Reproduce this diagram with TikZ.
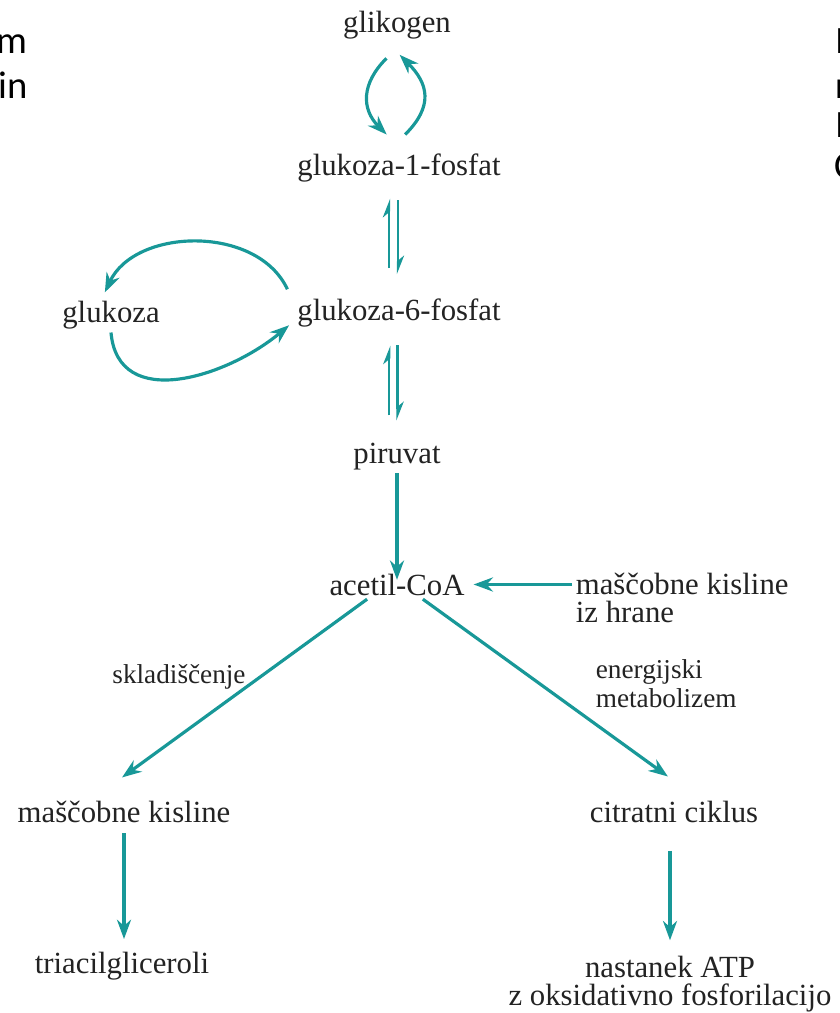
\documentclass[tikz,border=0pt]{standalone}
\usepackage{fontspec}
\setmainfont{Liberation Serif}
\newfontfamily\slidefont{Carlito}
\usetikzlibrary{arrows.meta,positioning}
\definecolor{pot}{RGB}{24,152,152}
\definecolor{besedilo}{RGB}{35,35,35}
\tikzset{
	snov/.style={inner sep=2pt, text=besedilo, font=\fontsize{17.5}{15.5}\selectfont},
	opis/.style={inner sep=2pt, text=besedilo, font=\fontsize{15.5}{16.5}\selectfont},
	drobec/.style={inner sep=0pt, text=black, font=\slidefont\fontsize{22}{26}\selectfont},
	tok/.style={draw=pot, line width=1.8pt, -{Stealth[length=11pt,width=8pt]}},
	povratna/.style={draw=pot, line width=1.3pt, -{Stealth[harpoon,length=9pt,width=7pt]}},
}

\begin{document}
\begin{tikzpicture}[x=0.2mm,y=0.2mm]
				\useasboundingbox (0,0) rectangle (840,-1013);
				\fill[white] (0,0) rectangle (840,-1013);
				\node[drobec, anchor=base east] (lm) at (28,-53) {m};
				\node[drobec, anchor=base east] (lin) at (28,-98) {in};
				\node[drobec, anchor=base west] (d1) at (835,-53) {I};
				\node[drobec, anchor=base west] (d2) at (835,-98) {r};
				\node[drobec, anchor=base west] (d3) at (835,-137) {I};
				\node[drobec, anchor=base west] (d4) at (834,-178) {C};
				
				\node[snov, anchor=base] (glikogen) at (397,-32) {glikogen};
				\node[snov, anchor=base] (g1p) at (399,-175) {glukoza-1-fosfat};
				\node[snov, anchor=base] (g6p) at (399,-320) {glukoza-6-fosfat};
				\node[snov, anchor=base] (glukoza) at (111,-322) {glukoza};
				\node[snov, anchor=base] (piruvat) at (397,-463) {piruvat};
				\node[snov, anchor=base] (acetil) at (397,-595) {acetil-CoA};
				\node[snov, anchor=base west, align=left] (hrana) at (572,-622) {maščobne kisline\\iz hrane};
				\node[opis, anchor=base] (sklad) at (179,-683) {skladiščenje};
				\node[opis, anchor=base west, align=left] (energ) at (592,-707) {energijski\\metabolizem};
				\node[snov, anchor=base] (mkl) at (124,-822) {maščobne kisline};
				\node[snov, anchor=base] (citrat) at (674,-822) {citratni ciklus};
				\node[snov, anchor=base] (tag) at (122,-973) {triacilgliceroli};
				\node[snov, anchor=base, align=center] (atp) at (670,-1005) {nastanek ATP\\z oksidativno fosforilacijo};
				
				\draw[tok] ([xshift=-6pt,yshift=-9pt]glikogen.south) to[out=225, in=135, looseness=1.2] ([xshift=-7pt,yshift=8.5pt]g1p.north);
				\draw[tok] ([xshift=3.5pt,yshift=8.5pt]g1p.north) to[out=45, in=-45, looseness=1.3] ([xshift=1.5pt,yshift=-7pt]glikogen.south);
				\draw[tok] ([xshift=-3.5pt,yshift=3pt]g6p.north west) to[out=115, in=65] ([xshift=-3.5pt,yshift=2.5pt]glukoza.north);
				\draw[tok] (glukoza.south) to[out=-85, in=-140, looseness=1.15] ([xshift=-2.5pt,yshift=3pt]g6p.south west);
				
				\draw[povratna, shorten <=15pt, shorten >=7.5pt] ([xshift=-5.7pt]g6p.north) -- ([xshift=-5.7pt]g1p.south);
				\draw[povratna, shorten <=8.5pt, shorten >=11.5pt] ([xshift=-0.6pt]g1p.south) -- ([xshift=-0.6pt]g6p.north);
				\draw[povratna, shorten <=13.3pt, shorten >=8.5pt] ([xshift=-5.5pt]g6p.south |- piruvat.north) -- ([xshift=-5.5pt]g6p.south);
				\draw[povratna, shorten <=8.5pt, shorten >=10.5pt] ([xshift=-0.8pt]g6p.south) -- ([xshift=-0.8pt]g6p.south |- piruvat.north);
				
				\draw[tok, shorten >=-5.7pt] (piruvat.south) -- (acetil.north);
				\draw[tok, shorten >=3pt] (hrana.west |- acetil) -- (acetil.east);
				\draw[tok, shorten >=18.7pt] ([xshift=-17pt]acetil.south) -- ([xshift=-16.2pt]mkl.north);
				\draw[tok, shorten >=19.7pt] ([xshift=14.7pt]acetil.south) -- ([xshift=12.5pt]citrat.north);
				\draw[tok, shorten <=4pt, shorten >=5pt] (mkl.south) -- (mkl.south |- tag.north);
				\draw[tok, shorten <=14pt, shorten >=7pt] (atp.north |- citrat.south) -- (atp.north);
			\end{tikzpicture}
\end{document}
